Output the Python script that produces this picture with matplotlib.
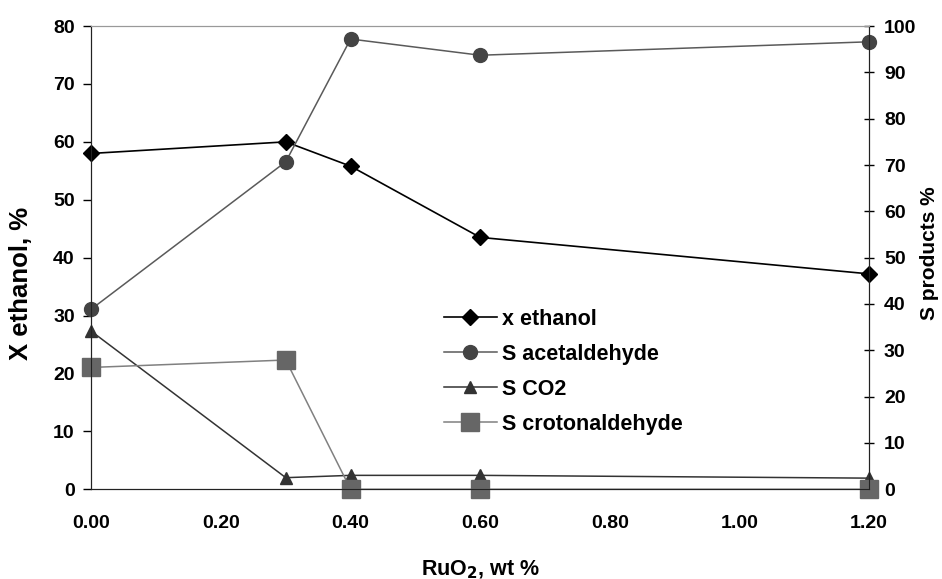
"""RuO2 loading vs ethanol conversion and product selectivities."""
import matplotlib
matplotlib.use("Agg")
import matplotlib.pyplot as plt

plt.rcParams["font.family"] = ["Liberation Sans", "DejaVu Sans"]
plt.rcParams["font.weight"] = "bold"

ruo2 = [0.00, 0.30, 0.40, 0.60, 1.20]
x_ethanol = [58.0, 60.0, 55.8, 43.5, 37.2]
s_acetaldehyde = [38.9, 70.7, 97.2, 93.7, 96.6]
s_co2 = [34.1, 2.5, 3.0, 3.0, 2.4]
s_crotonaldehyde = [26.3, 27.9, 0.0, 0.0, 0.0]

x_ticks = [0.0, 0.2, 0.4, 0.6, 0.8, 1.0, 1.2]

fig, ax = plt.subplots(figsize=(9.42, 5.79), dpi=100)
fig.subplots_adjust(left=0.097, right=0.9225, top=0.955, bottom=0.155)
ax2 = ax.twinx()

# left axis: conversion
l1, = ax.plot(ruo2, x_ethanol, color="black", lw=1.2, marker="D", ms=8,
              mfc="black", mec="black", label="x ethanol", zorder=5, clip_on=False)
# right axis: selectivities
l2, = ax2.plot(ruo2, s_acetaldehyde, color="#5a5a5a", lw=1.1, marker="o", ms=10,
               mfc="#444444", mec="#444444", label="S acetaldehyde", clip_on=False)
l3, = ax2.plot(ruo2, s_co2, color="#333333", lw=1.1, marker="^", ms=9,
               mfc="#333333", mec="#333333", label="S CO2", clip_on=False)
l4, = ax2.plot(ruo2, s_crotonaldehyde, color="#808080", lw=1.1, marker="s", ms=12.5,
               mfc="#666666", mec="#666666", label="S crotonaldehyde", clip_on=False)

ax.set_xlim(0, 1.2)
ax.set_ylim(0, 80)
ax2.set_ylim(0, 100)
ax.set_xticks(x_ticks)
ax.set_xticklabels([f"{v:.2f}" for v in x_ticks])
ax.set_yticks(range(0, 81, 10))
ax2.set_yticks(range(0, 101, 10))

ax.tick_params(axis="x", length=0, pad=18.5, labelsize=14)
ax.tick_params(axis="y", direction="out", length=6, width=1, pad=6, labelsize=14)
ax2.tick_params(axis="y", direction="inout", length=7.5, width=1, pad=7, labelsize=14)

for a in (ax, ax2):
    a.spines["top"].set_color("#999999")
    a.spines["left"].set_color("#222222")
    a.spines["right"].set_color("#222222")
    a.spines["bottom"].set_color("#222222")

ax.set_xlabel("RuO$_2$, wt %", fontsize=15.5, fontweight="bold", labelpad=19)
ax.set_ylabel("X ethanol, %", fontsize=18.5, fontweight="bold")
ax.yaxis.set_label_coords(-0.0746, 0.444)
ax2.set_ylabel("S products %", fontsize=15, fontweight="bold")
ax2.yaxis.set_label_coords(1.0656, 0.51)

ax2.legend(handles=[l1, l2, l3, l4], loc="upper left",
           bbox_to_anchor=(0.428, 0.431), frameon=False, fontsize=15.5,
           handlelength=2.5, labelspacing=0.65, handletextpad=0.2)

fig.savefig("out.png", dpi=100)
